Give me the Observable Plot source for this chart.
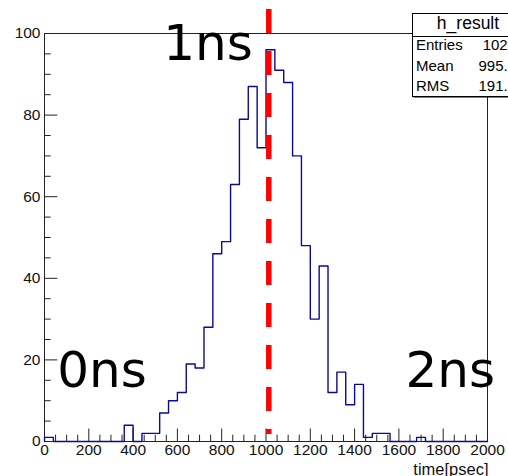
<!DOCTYPE html>
<html>
<head>
<meta charset="utf-8">
<script src="https://cdn.jsdelivr.net/npm/d3@7"></script>
<script src="https://cdn.jsdelivr.net/npm/@observablehq/plot@0.6"></script>
<style>
  html, body { margin: 0; padding: 0; background: #fff; overflow: hidden; width: 508px; height: 476px; }
  #chart { width: 508px; height: 476px; overflow: hidden; }
</style>
</head>
<body>
<div id="chart"></div>
<script>
// ---- data ----
// histogram counts, 50 bins of 40 psec from 0 to 2000
const counts = [
  1, 0, 0, 0, 0, 0, 0, 0, 0, 4,
  0, 2, 2, 7, 10, 12, 19, 18, 28, 46,
  49, 63, 79, 87, 72, 96, 91, 88, 70, 48,
  30, 43, 12, 17, 9, 14, 1, 2, 2, 0,
  0, 0, 1, 0, 0, 0, 0, 0, 0, 0
];
const binWidth = 40;
const xDomain = [0, 2000];
const yDomain = [0, 100];
const xMajor = [0, 200, 400, 600, 800, 1000, 1200, 1400, 1600, 1800, 2000];
const xMinor = d3.range(0, 2001, 50).filter(v => v % 200 !== 0);
const yMajor = [0, 20, 40, 60, 80, 100];
const yMinor = d3.range(0, 101, 5).filter(v => v % 20 !== 0);
const markerX = [1000];
const annText = ["0ns", "1ns", "2ns"];
const annX = [57, 536, 1630];
const annY = [13.4, 93.5, 13.4];
const axisTitle = ["time[psec]"];
const statTitle = "h_result";
const statLabels = ["Entries", "Mean", "RMS"];
const statValues = ["1023", "995.5", "191.4"];

// ---- layout ----
const W = 508, H = 476;
const mL = 44, mR = 21, mT = 33, mB = 35;
const frameW = W - mL - mR, frameH = H - mT - mB;
const sans = "'Liberation Sans', Arial, Helvetica, sans-serif";
const axisCol = "#222";

const steps = [{x: 0, y: 0}]
  .concat(counts.map((c, i) => ({x: i * binWidth, y: c})))
  .concat([{x: counts.length * binWidth, y: counts[counts.length - 1]}]);

const annotations = annText.map((t, i) => ({t, x: annX[i], y: annY[i]}));

const plot = Plot.plot({
  width: W, height: H,
  marginLeft: mL, marginRight: mR, marginTop: mT, marginBottom: mB,
  style: {fontFamily: sans, background: "#fff", overflow: "hidden"},
  x: {domain: xDomain, axis: null},
  y: {domain: yDomain, axis: null},
  marks: [
    Plot.frame({stroke: axisCol, strokeWidth: 1}),
    Plot.ruleX(xMajor, {x: d => d, stroke: axisCol, insetTop: frameH - 12.5}),
    Plot.ruleX(xMinor, {x: d => d, stroke: axisCol, insetTop: frameH - 6.3}),
    Plot.ruleY(yMajor, {y: d => d, stroke: axisCol, insetRight: frameW - 13.3}),
    Plot.ruleY(yMinor, {y: d => d, stroke: axisCol, insetRight: frameW - 6.7}),
    Plot.line(steps, {x: "x", y: "y", curve: "step-after", stroke: "#0a0a96", strokeWidth: 1.4}),
    Plot.ruleX(markerX, {x: d => d, dx: 2.8, stroke: "#ff0000", strokeWidth: 5.5,
      insetTop: -mT, insetBottom: 7, strokeDasharray: "24,18", strokeDashoffset: 33}),
    Plot.axisX({ticks: xMajor, tickSize: 0, tickPadding: 2, fontSize: 15.5,
      tickFormat: d => String(d), label: null, fill: "#111"}),
    Plot.axisY({ticks: yMajor, tickSize: 0, tickPadding: 4, fontSize: 15.5,
      tickFormat: d => String(d), label: null, fill: "#111"}),
    Plot.text(axisTitle, {text: d => d, frameAnchor: "bottom-right", textAnchor: "end",
      lineAnchor: "bottom", dx: 1, dy: 33, fontSize: 16.5, fill: "#111"}),
    Plot.text(annotations, {x: "x", y: "y", text: "t", textAnchor: "start", lineAnchor: "bottom",
      fontFamily: "'DejaVu Sans', Verdana, sans-serif", fontSize: 50, fill: "#000"})
  ]
});

// stats box (ROOT-style) overlaid at top right
const svg = d3.select(plot);
const g = svg.append("g").attr("font-family", sans).attr("fill", "#000").attr("text-anchor", "start");
const bx = 412.5, by = 13.5, bw = 112, bh = 83, sep = 23;
g.append("rect").attr("x", bx + 1).attr("y", by + 1).attr("width", bw).attr("height", bh).attr("fill", "#000");
g.append("rect").attr("x", bx).attr("y", by).attr("width", bw).attr("height", bh)
  .attr("fill", "#fff").attr("stroke", "#000").attr("stroke-width", 1);
g.append("line").attr("x1", bx).attr("x2", bx + bw).attr("y1", by + sep).attr("y2", by + sep)
  .attr("stroke", "#000").attr("stroke-width", 1);
g.append("text").attr("x", bx + 55.5).attr("y", by + 15).attr("text-anchor", "middle")
  .attr("font-size", 17.5).text(statTitle);
const rowY = [49.5, 70.5, 91];
statLabels.forEach((s, i) => {
  g.append("text").attr("x", bx + 3.5).attr("y", rowY[i]).attr("text-anchor", "start")
    .attr("font-size", 15).text(s);
  g.append("text").attr("x", 516).attr("y", rowY[i]).attr("text-anchor", "end")
    .attr("font-size", 15).text(statValues[i]);
});

document.getElementById("chart").appendChild(plot);
</script>
</body>
</html>
